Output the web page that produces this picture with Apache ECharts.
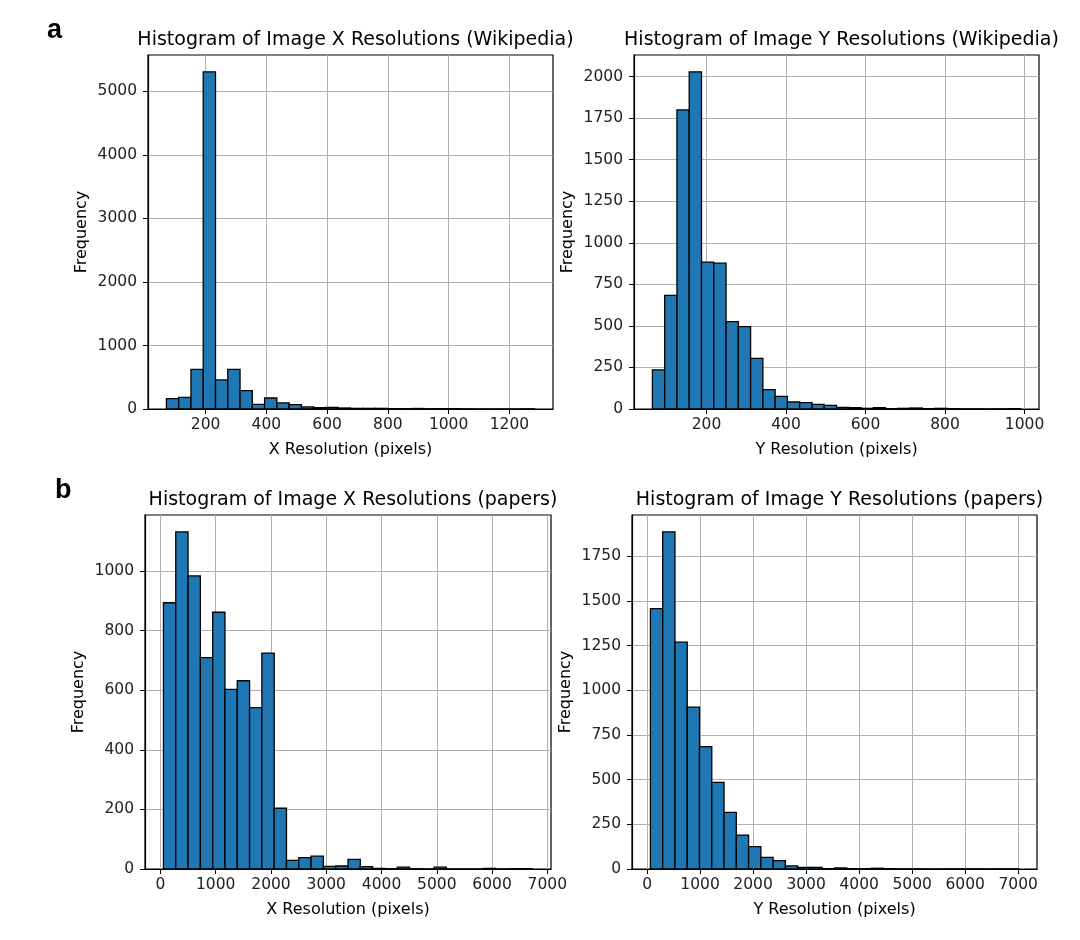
<!DOCTYPE html>
<html>
<head>
<meta charset="utf-8">
<script src="https://cdn.jsdelivr.net/npm/echarts@6/dist/echarts.min.js"></script>
<style>
html,body{margin:0;padding:0;background:#fff;}
#chart{width:1080px;height:940px;}
</style>
</head>
<body>
<div id="chart"></div>
<script>
// ---- Data (30 bins per histogram) ----
var wikiXCounts = [163,184,625,5307,457,625,289,74,173,95,68,32,21,26,16,10,10,10,5,5,8,4,5,6,2,1,1,1,1,3];
var wikiXRange = [71, 1283];
var wikiYCounts = [235,683,1799,2028,884,877,526,496,305,116,76,42,38,28,22,10,8,4,8,2,4,6,2,4,2,1,1,0,1,2];
var wikiYRange = [64, 990];
var papersXCounts = [894,1132,984,710,862,603,632,542,725,204,29,38,43,9,10,32,8,2,1,6,1,0,6,0,0,0,2,0,1,1];
var papersXRange = [54, 6733];
var papersYCounts = [1457,1886,1269,905,685,485,317,190,125,65,47,17,9,9,2,6,2,2,4,2,1,1,0,0,1,1,1,0,1,1];
var papersYRange = [63, 7008];

// ---- Tick labels ----
var wikiXTicks = [200,400,600,800,1000,1200];
var wikiXFreqTicks = [0,1000,2000,3000,4000,5000];
var wikiYTicks = [200,400,600,800,1000];
var wikiYFreqTicks = [0,250,500,750,1000,1250,1500,1750,2000];
var papersXTicks = [0,1000,2000,3000,4000,5000,6000,7000];
var papersXFreqTicks = [0,200,400,600,800,1000];
var papersYTicks = [0,1000,2000,3000,4000,5000,6000,7000];
var papersYFreqTicks = [0,250,500,750,1000,1250,1500,1750];

var titles = [
  'Histogram of Image X Resolutions (Wikipedia)',
  'Histogram of Image Y Resolutions (Wikipedia)',
  'Histogram of Image X Resolutions (papers)',
  'Histogram of Image Y Resolutions (papers)'
];
var xNames = ['X Resolution (pixels)','Y Resolution (pixels)','X Resolution (pixels)','Y Resolution (pixels)'];
var yName = 'Frequency';

var panels = [
  {counts: wikiXCounts, range: wikiXRange, xt: wikiXTicks, yt: wikiXFreqTicks},
  {counts: wikiYCounts, range: wikiYRange, xt: wikiYTicks, yt: wikiYFreqTicks},
  {counts: papersXCounts, range: papersXRange, xt: papersXTicks, yt: papersXFreqTicks},
  {counts: papersYCounts, range: papersYRange, xt: papersYTicks, yt: papersYFreqTicks}
];

// ---- Layout ----
var grids = [
  {left:148, top:55, width:405, height:354},
  {left:634, top:55, width:405, height:354},
  {left:145, top:515, width:406, height:354},
  {left:632, top:515, width:405, height:354}
];

var FONT = 'DejaVu Sans';

function buildBins(counts, range){
  var n = counts.length, w = (range[1]-range[0])/n, out = [];
  for (var i=0;i<n;i++){ out.push([range[0]+i*w, range[0]+(i+1)*w, counts[i]]); }
  return out;
}
function plain(v){ return String(Math.round(v)); }

var option = {
  backgroundColor:'#fff',
  animation:false,
  title:[],
  grid:[], xAxis:[], yAxis:[], series:[],
  graphic:[
    {type:'text', left:47, top:17, style:{text:'a', font:'bold 27px "Liberation Sans", Arial', fill:'#000'}},
    {type:'text', left:55, top:477, style:{text:'b', font:'bold 27px "Liberation Sans", Arial', fill:'#000'}}
  ]
};

panels.forEach(function(p, i){
  var g = grids[i];
  var span = p.range[1]-p.range[0];
  var xmin = p.range[0]-0.05*span, xmax = p.range[1]+0.05*span;
  var ymax = Math.max.apply(null, p.counts)*1.05;
  option.grid.push({left:g.left, top:g.top, width:g.width, height:g.height, show:true, borderColor:'#000', borderWidth:1.2, backgroundColor:'transparent'});
  option.title.push({text:titles[i], left:g.left+g.width/2, top:g.top-29, textAlign:'center',
    textStyle:{fontFamily:FONT, fontSize:19, fontWeight:'normal', color:'#000'}});
  option.xAxis.push({
    type:'value', gridIndex:i, min:xmin, max:xmax,
    name:xNames[i], nameLocation:'middle', nameGap:33,
    nameTextStyle:{fontFamily:FONT, fontSize:16, color:'#000'},
    axisLine:{show:true, onZero:false, lineStyle:{color:'#000', width:1.2}},
    axisTick:{show:true, length:5, customValues:p.xt, lineStyle:{color:'#000', width:1}},
    axisLabel:{fontFamily:FONT, fontSize:15.5, color:'#222', margin:8, customValues:p.xt, formatter:plain},
    splitLine:{show:true, lineStyle:{color:'#b0b0b0', width:1}}
  });
  option.yAxis.push({
    type:'value', gridIndex:i, min:0, max:ymax,
    name:yName, nameLocation:'middle', nameGap:58, nameRotate:90,
    nameTextStyle:{fontFamily:FONT, fontSize:16, color:'#000'},
    axisLine:{show:true, onZero:false, lineStyle:{color:'#000', width:1.2}},
    axisTick:{show:true, length:5, customValues:p.yt, lineStyle:{color:'#000', width:1}},
    axisLabel:{fontFamily:FONT, fontSize:15.5, color:'#222', margin:11, customValues:p.yt, formatter:plain},
    splitLine:{show:true, lineStyle:{color:'#b0b0b0', width:1}}
  });
  option.series.push({
    type:'custom', xAxisIndex:i, yAxisIndex:i, clip:true,
    data: buildBins(p.counts, p.range),
    encode:{x:[0,1], y:2},
    renderItem:function(params, api){
      var x0 = api.value(0), x1 = api.value(1), y = api.value(2);
      var a = api.coord([x0, y]), b = api.coord([x1, 0]);
      return {type:'rect', shape:{x:a[0], y:a[1], width:b[0]-a[0], height:b[1]-a[1]},
        style:{fill:'#1f77b4', stroke:'#000', lineWidth:1.3}};
    }
  });
});

var chart = echarts.init(document.getElementById('chart'), null, {renderer:'canvas'});
chart.setOption(option);
</script>
</body>
</html>
